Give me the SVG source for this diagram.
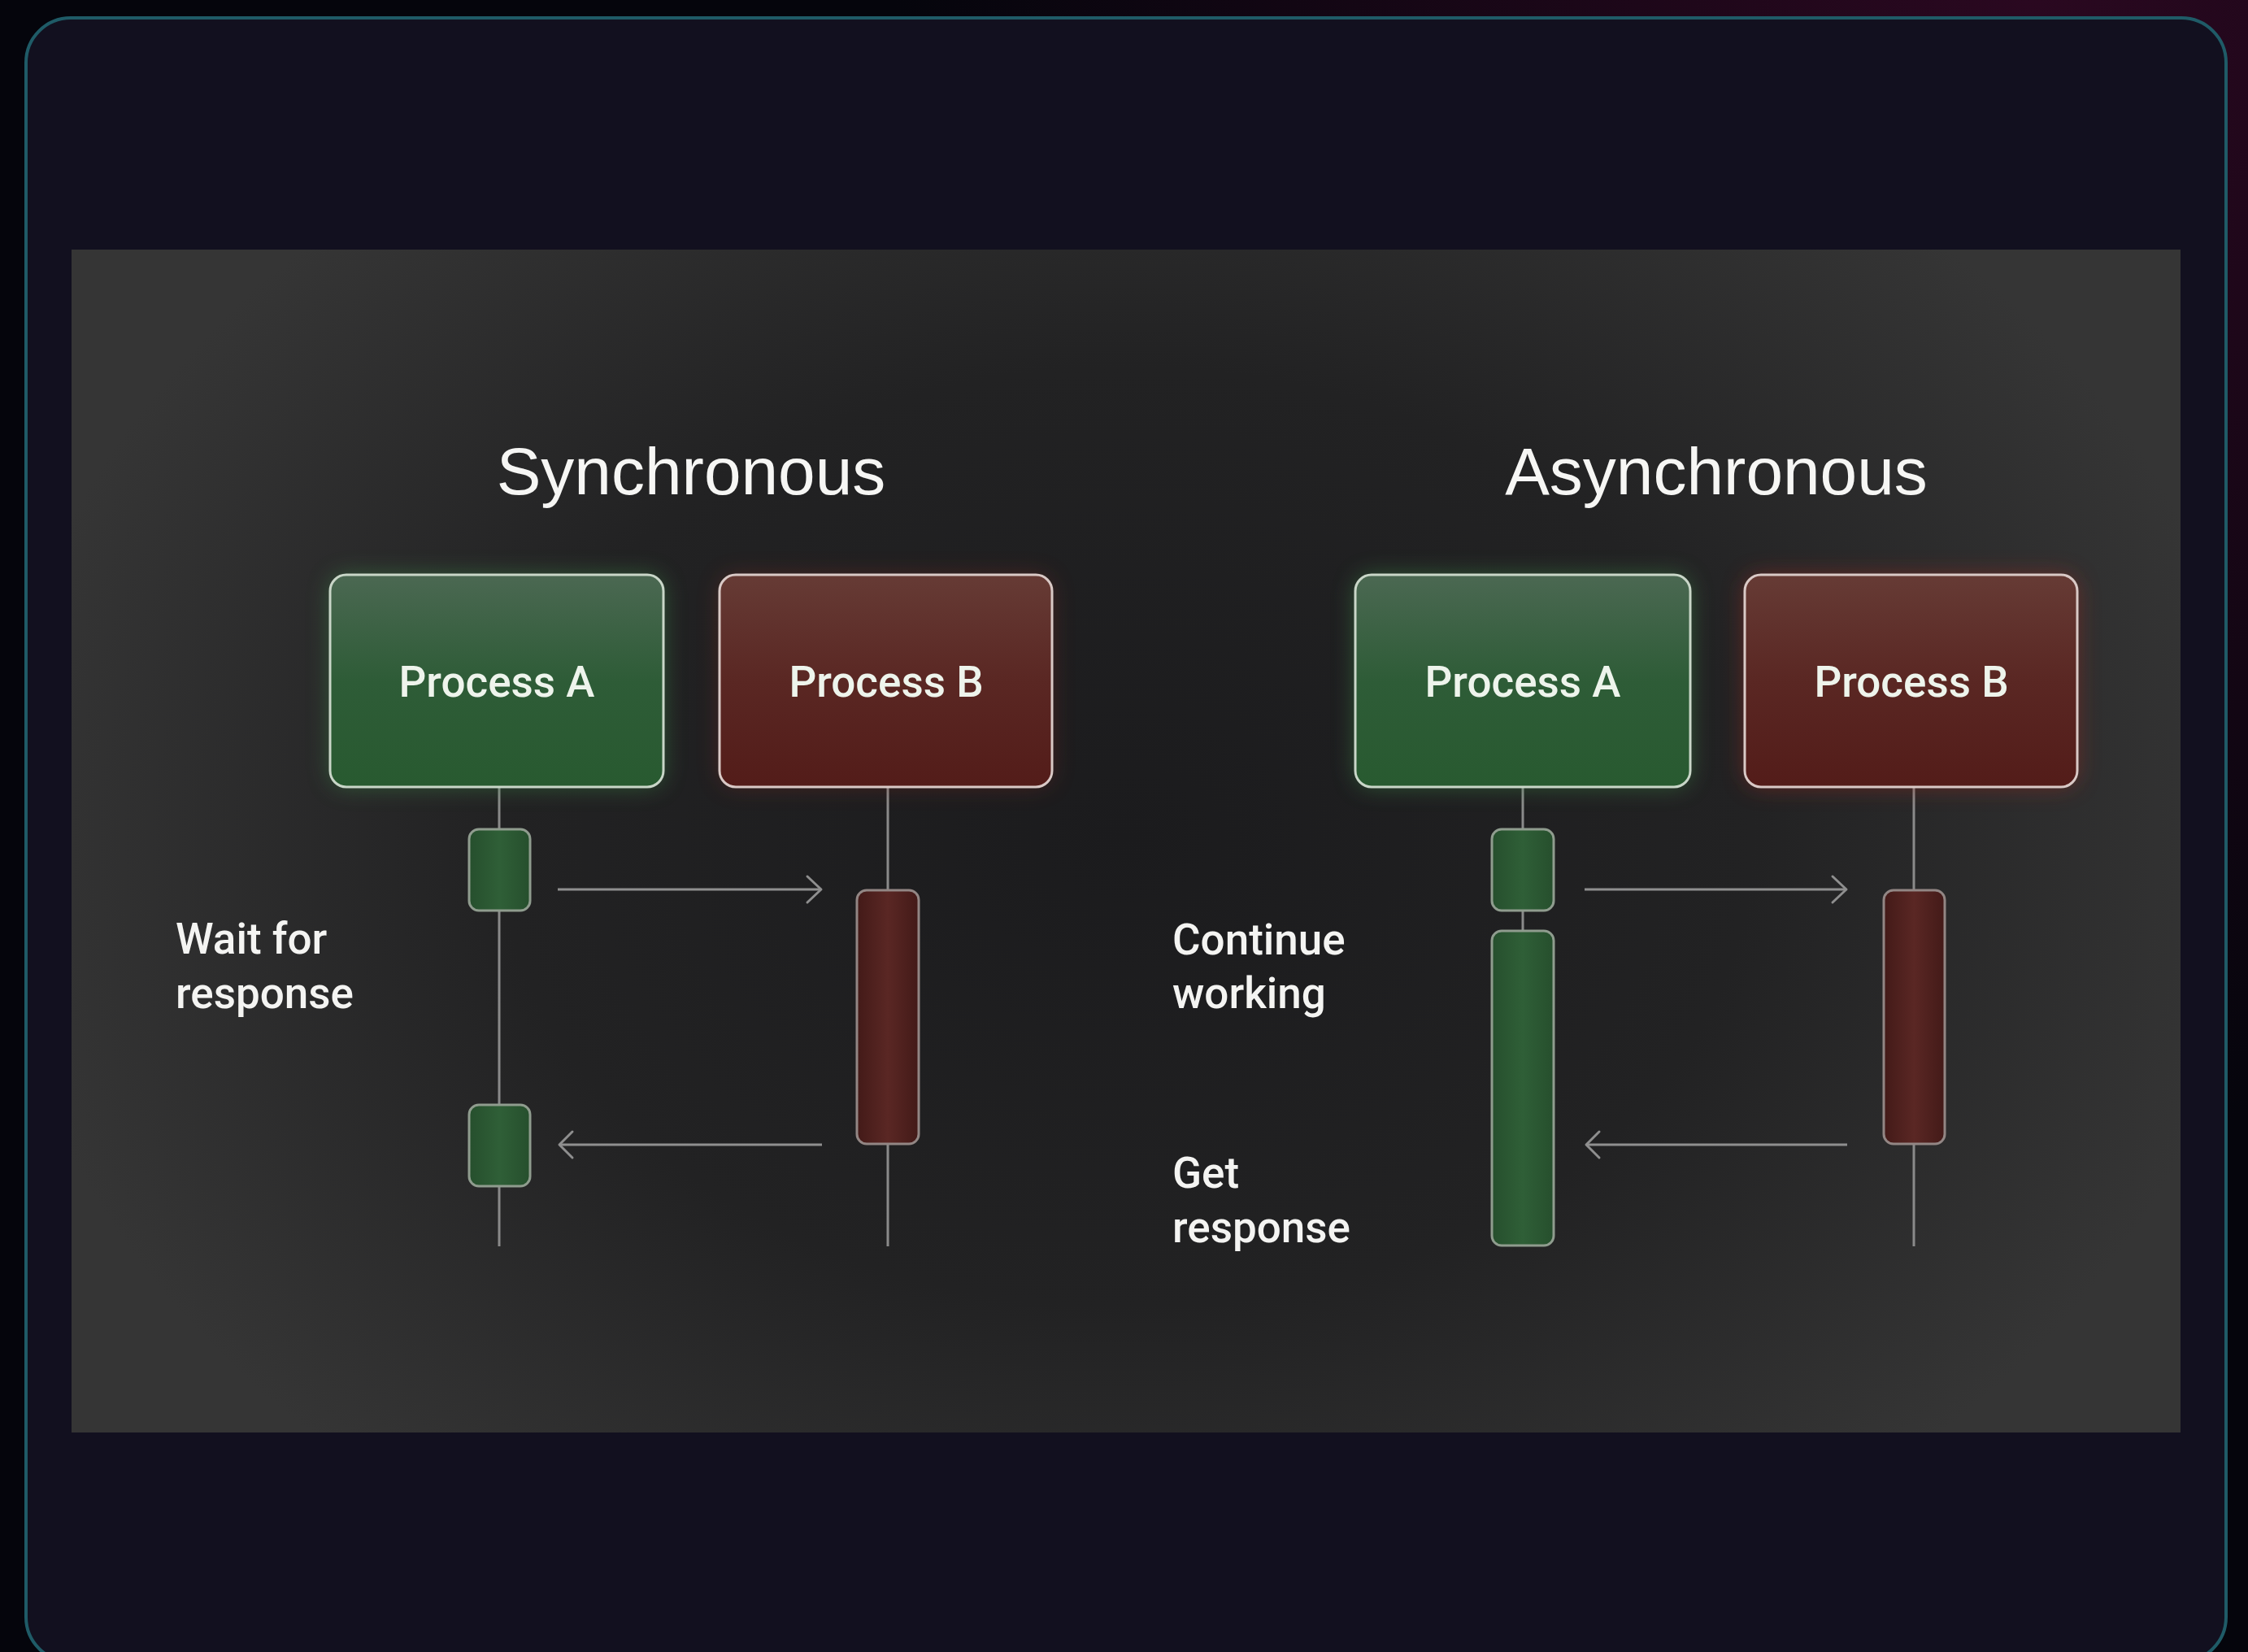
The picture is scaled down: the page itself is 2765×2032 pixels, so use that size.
<svg xmlns="http://www.w3.org/2000/svg" width="2765" height="2032" viewBox="0 0 2765 2032">
  <defs>
    <radialGradient id="bgTint" cx="2500" cy="0" r="1400" gradientUnits="userSpaceOnUse">
      <stop offset="0" stop-color="#2a0820"/>
      <stop offset="1" stop-color="#05050c"/>
    </radialGradient>
    <radialGradient id="panelGrad" cx="1385" cy="1030" r="1400" gradientTransform="translate(1385 1030) scale(1 0.75) translate(-1385 -1030)" gradientUnits="userSpaceOnUse">
      <stop offset="0" stop-color="#1b1b1d"/>
      <stop offset="0.55" stop-color="#222223"/>
      <stop offset="1" stop-color="#353535"/>
    </radialGradient>
    <linearGradient id="greenGrad" x1="0" y1="0" x2="0" y2="1">
      <stop offset="0" stop-color="#4b6852"/>
      <stop offset="0.5" stop-color="#2e5c37"/>
      <stop offset="1" stop-color="#285a30"/>
    </linearGradient>
    <linearGradient id="redGrad" x1="0" y1="0" x2="0" y2="1">
      <stop offset="0" stop-color="#663b35"/>
      <stop offset="0.5" stop-color="#5a2723"/>
      <stop offset="1" stop-color="#531c19"/>
    </linearGradient>
    <linearGradient id="greenAct" x1="0" y1="0" x2="1" y2="0">
      <stop offset="0" stop-color="#264f2d"/>
      <stop offset="0.5" stop-color="#2f5f37"/>
      <stop offset="1" stop-color="#264f2d"/>
    </linearGradient>
    <linearGradient id="redAct" x1="0" y1="0" x2="1" y2="0">
      <stop offset="0" stop-color="#431a18"/>
      <stop offset="0.5" stop-color="#5a2724"/>
      <stop offset="1" stop-color="#431a18"/>
    </linearGradient>
    <filter id="glowG" x="-20%" y="-20%" width="140%" height="140%">
      <feGaussianBlur stdDeviation="14"/>
    </filter>
  </defs>
  <style>
    .title { font-family: "Liberation Sans", Arial, sans-serif; font-size: 82px; fill: #f6f6f4; text-anchor: middle; }
    .plabel { font-family: Roboto, "Liberation Sans", sans-serif; font-weight: 500; font-size: 53px; fill: #eef4ec; text-anchor: middle; }
    .side { font-family: Roboto, "Liberation Sans", sans-serif; font-weight: 500; font-size: 53px; fill: #f4f4f2; }
    .proc-g { fill: url(#greenGrad); stroke: #c9d6c8; stroke-width: 3; }
    .proc-r { fill: url(#redGrad); stroke: #d9c9c6; stroke-width: 3; }
    .act-g { fill: url(#greenAct); stroke: #8f9c8e; stroke-width: 3; }
    .act-r { fill: url(#redAct); stroke: #928684; stroke-width: 3; }
    .life { stroke: #8a8a8a; stroke-width: 3; fill: none; }
    .msg { stroke: #8f8f8f; stroke-width: 3; fill: none; }
    .arrowhead { stroke: #8f8f8f; stroke-width: 3; fill: none; stroke-linecap: round; stroke-linejoin: round; }
  </style>

  <!-- background -->
  <rect x="0" y="0" width="2765" height="2032" fill="url(#bgTint)"/>
  <rect x="32" y="22" width="2706" height="2022" rx="55" fill="#12101f" stroke="#1f5b67" stroke-width="4"/>
  <rect x="88" y="307" width="2594" height="1455" fill="url(#panelGrad)"/>

  <!-- titles -->
  <text class="title" x="850" y="608">Synchronous</text>
  <text class="title" x="2111" y="608">Asynchronous</text>

  <!-- connectors: lifelines and messages -->
  <g id="connectors">
    <line class="life" x1="614" y1="968" x2="614" y2="1533"/>
    <line class="life" x1="1092" y1="968" x2="1092" y2="1533"/>
    <line class="life" x1="1873" y1="968" x2="1873" y2="1533"/>
    <line class="life" x1="2354" y1="968" x2="2354" y2="1533"/>
    <g id="sync-request">
      <line class="msg" x1="686" y1="1094" x2="1010" y2="1094"/>
      <polyline class="arrowhead" points="993,1078 1010,1094 993,1110"/>
    </g>
    <g id="sync-response">
      <line class="msg" x1="1011" y1="1408" x2="688" y2="1408"/>
      <polyline class="arrowhead" points="704,1392 688,1408 704,1424"/>
    </g>
    <g id="async-request">
      <line class="msg" x1="1949" y1="1094" x2="2271" y2="1094"/>
      <polyline class="arrowhead" points="2254,1078 2271,1094 2254,1110"/>
    </g>
    <g id="async-response">
      <line class="msg" x1="2272" y1="1408" x2="1951" y2="1408"/>
      <polyline class="arrowhead" points="1967,1392 1951,1408 1967,1424"/>
    </g>
  </g>

  <!-- Synchronous nodes -->
  <g id="sync-process-a">
    <rect x="406" y="707" width="410" height="261" rx="20" fill="#3c8a4a" opacity="0.5" filter="url(#glowG)"/>
    <rect class="proc-g" x="406" y="707" width="410" height="261" rx="20"/>
    <text class="plabel" x="611" y="857">Process A</text>
  </g>
  <g id="sync-process-b">
    <rect x="885" y="707" width="409" height="261" rx="20" fill="#8a2a24" opacity="0.35" filter="url(#glowG)"/>
    <rect class="proc-r" x="885" y="707" width="409" height="261" rx="20"/>
    <text class="plabel" x="1090" y="857">Process B</text>
  </g>
  <g id="sync-a-act1">
    <rect class="act-g" x="577" y="1020" width="75" height="100" rx="12"/>
  </g>
  <g id="sync-a-act2">
    <rect class="act-g" x="577" y="1359" width="75" height="100" rx="12"/>
  </g>
  <g id="sync-b-act">
    <rect class="act-r" x="1054" y="1095" width="76" height="312" rx="12"/>
  </g>
  <g id="label-wait">
    <text class="side" x="216" y="1173">Wait for</text>
    <text class="side" x="216" y="1240">response</text>
  </g>

  <!-- Asynchronous nodes -->
  <g id="async-process-a">
    <rect x="1667" y="707" width="412" height="261" rx="20" fill="#3c8a4a" opacity="0.5" filter="url(#glowG)"/>
    <rect class="proc-g" x="1667" y="707" width="412" height="261" rx="20"/>
    <text class="plabel" x="1873" y="857">Process A</text>
  </g>
  <g id="async-process-b">
    <rect x="2146" y="707" width="409" height="261" rx="20" fill="#a02a24" opacity="0.5" filter="url(#glowG)"/>
    <rect class="proc-r" x="2146" y="707" width="409" height="261" rx="20"/>
    <text class="plabel" x="2351" y="857">Process B</text>
  </g>
  <g id="async-a-act1">
    <rect class="act-g" x="1835" y="1020" width="76" height="100" rx="12"/>
  </g>
  <g id="async-a-act2">
    <rect class="act-g" x="1835" y="1145" width="76" height="387" rx="12"/>
  </g>
  <g id="async-b-act">
    <rect class="act-r" x="2317" y="1095" width="75" height="312" rx="12"/>
  </g>
  <g id="label-continue">
    <text class="side" x="1442" y="1174">Continue</text>
    <text class="side" x="1442" y="1240">working</text>
  </g>
  <g id="label-get">
    <text class="side" x="1442" y="1461">Get</text>
    <text class="side" x="1442" y="1528">response</text>
  </g>
</svg>
